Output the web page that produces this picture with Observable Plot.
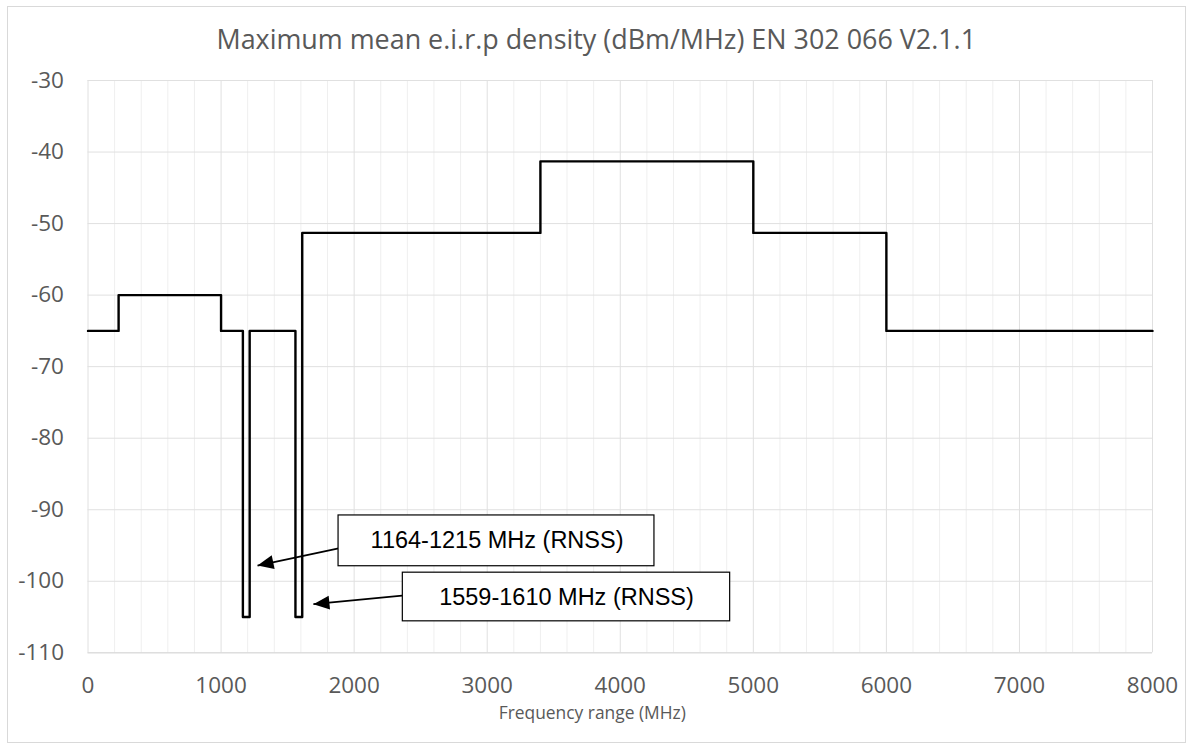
<!DOCTYPE html>
<html>
<head>
<meta charset="utf-8">
<script src="https://cdn.jsdelivr.net/npm/d3@7"></script>
<script src="https://cdn.jsdelivr.net/npm/@observablehq/plot@0.6"></script>
<style>
  html, body { margin: 0; padding: 0; background: #fff; }
  #wrap { position: relative; width: 1192px; height: 749px; }
  #border { position: absolute; left: 7px; top: 6px; width: 1177px; height: 735px; border: 1px solid #d9d9d9; pointer-events: none; }
</style>
</head>
<body>
<div id="wrap"><div id="border"></div></div>
<script>
// ---- data ----
const freqMHz     = [0, 230, 1000, 1164, 1215, 1559, 1610, 3400, 5000, 6000, 8000];
const eirpDensity = [-65, -60, -65, -105, -65, -105, -51.3, -41.3, -51.3, -65, -65];

const xTickValues = [0, 1000, 2000, 3000, 4000, 5000, 6000, 7000, 8000];
const yTickValues = [-110, -100, -90, -80, -70, -60, -50, -40, -30];
const xMinorGrid  = [200, 400, 600, 800, 1200, 1400, 1600, 1800, 2200, 2400, 2600, 2800,
                     3200, 3400, 3600, 3800, 4200, 4400, 4600, 4800, 5200, 5400, 5600, 5800,
                     6200, 6400, 6600, 6800, 7200, 7400, 7600, 7800];

const titleText = "Maximum mean e.i.r.p density (dBm/MHz) EN 302 066 V2.1.1";
const xLabel = "Frequency range (MHz)";

// annotation callouts (data coordinates)
const calloutLabels = ["1164-1215 MHz (RNSS)", "1559-1610 MHz (RNSS)"];
const calloutBoxX1 = [1883, 2366];
const calloutBoxX2 = [4257, 4826];
const calloutBoxY1 = [-90.8, -98.8];
const calloutBoxY2 = [-97.9, -105.6];
const calloutTextX = [3074, 3596];
const calloutTextY = [-94.3, -102.3];
const arrowFromX = [1883, 2361];
const arrowFromY = [-95.4, -102.0];
const arrowToX   = [1274, 1694];
const arrowToY   = [-97.8, -103.2];

// ---- build ----
const W = 1192, H = 749;
const mL = 87.5, mR = 40, mT = 80, mB = 96.7;
const kx = (W - mL - mR) / 8000;   // px per MHz
const ky = (H - mT - mB) / 80;     // px per dB

const steps = freqMHz.map((f, i) => ({f, v: eirpDensity[i]}));
const callouts = calloutLabels.map((label, i) => ({
  label,
  x1: calloutBoxX1[i], x2: calloutBoxX2[i], y1: calloutBoxY1[i], y2: calloutBoxY2[i],
  tx: calloutTextX[i], ty: calloutTextY[i],
  ax1: arrowFromX[i], ay1: arrowFromY[i], ax2: arrowToX[i], ay2: arrowToY[i]
}));

// arrowhead symbol: tip at origin, pointing up
const arrowHead = {
  draw(context, size) {
    const L = 16, hw = 7;
    context.moveTo(0, 0);
    context.lineTo(hw, L);
    context.lineTo(-hw, L);
    context.closePath();
  }
};
function headAngle(d) {
  const dx = (d.ax2 - d.ax1) * kx;
  const dy = -(d.ay2 - d.ay1) * ky;
  return Math.atan2(dx, -dy) * 180 / Math.PI;
}

const FONT = "'Open Sans', 'DejaVu Sans', sans-serif";
const GRAY = "#595959";

const chart = Plot.plot({
  width: W,
  height: H,
  marginLeft: mL,
  marginRight: mR,
  marginTop: mT,
  marginBottom: mB,
  x: {domain: [0, 8000], axis: null},
  y: {domain: [-110, -30], axis: null},
  style: {fontFamily: FONT, background: "transparent"},
  marks: [
    Plot.ruleX(xMinorGrid, {stroke: "#efefef", strokeWidth: 1}),
    Plot.ruleX(xTickValues, {stroke: "#e0e0e0", strokeWidth: 1}),
    Plot.ruleY(yTickValues, {stroke: "#e0e0e0", strokeWidth: 1}),
    Plot.ruleY([-110], {stroke: "#d9d9d9", strokeWidth: 1}),
    Plot.line(steps, {x: "f", y: "v", curve: "step-after", stroke: "#000", strokeWidth: 2.4}),
    // tick labels
    Plot.text(xTickValues, {x: d => d, frameAnchor: "bottom", dy: 33, lineAnchor: "middle",
      text: d => String(d), fill: GRAY, fontSize: 22.5, fontFamily: FONT}),
    Plot.text(yTickValues, {y: d => d, frameAnchor: "left", dx: -24, textAnchor: "end", lineAnchor: "middle",
      text: d => String(d), fill: GRAY, fontSize: 22.5, fontFamily: FONT}),
    // axis title
    Plot.text([xLabel], {frameAnchor: "bottom", dx: -28, dy: 66, lineAnchor: "bottom",
      text: d => d, fill: GRAY, fontSize: 17.4, fontFamily: FONT}),
    // chart title
    Plot.text([titleText], {frameAnchor: "top", dx: -24, dy: -32, lineAnchor: "bottom",
      text: d => d, fill: GRAY, fontSize: 26.9, fontFamily: FONT}),
    // callouts
    Plot.link(callouts, {x1: "ax1", y1: "ay1", x2: "ax2", y2: "ay2", stroke: "#000", strokeWidth: 1.8}),
    Plot.dot(callouts, {x: "ax2", y: "ay2", symbol: arrowHead, r: 5, fill: "#000", stroke: "none",
      rotate: headAngle}),
    Plot.rect(callouts, {x1: "x1", x2: "x2", y1: "y1", y2: "y2", fill: "#fff", stroke: "#000", strokeWidth: 1.2}),
    Plot.text(callouts, {x: "tx", y: "ty", text: "label", fill: "#000", fontSize: 23.5,
      fontFamily: "'Liberation Sans', Arial, sans-serif", lineAnchor: "middle"})
  ]
});
document.getElementById("wrap").prepend(chart);
</script>
</body>
</html>
